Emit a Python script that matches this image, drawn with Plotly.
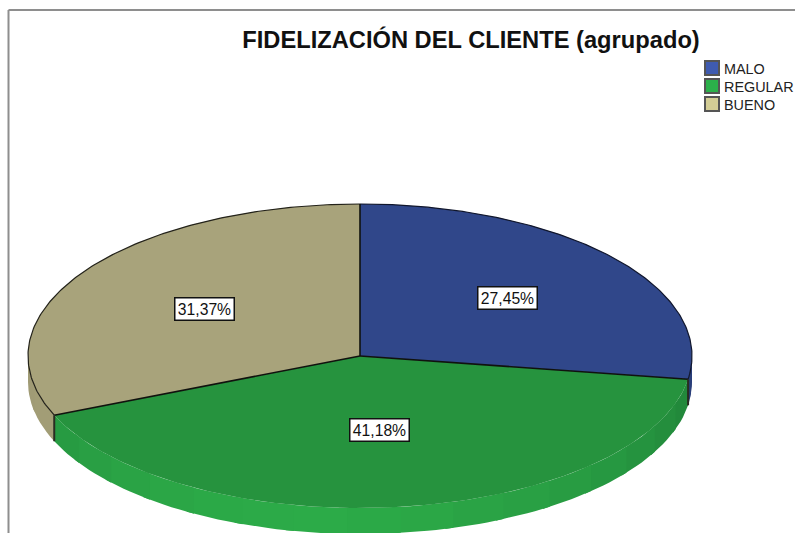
import numpy as np
import plotly.graph_objects as go

categories = ["MALO", "REGULAR", "BUENO"]
values = [27.45, 41.18, 31.37]
labels = ["27,45%", "41,18%", "31,37%"]
title = "FIDELIZACIÓN DEL CLIENTE (agrupado)"
label_radius = [0.587, 0.49, 0.563]

top_colors = ["#30478A", "#26933E", "#A8A37B"]
legend_colors = ["#3F5BB0", "#2BB04A", "#D3CD95"]
wall_light = ["#3D57A4", "#2CAB48", "#A8A37B"]
wall_dark = ["#2A3E7A", "#21853A", "#9C9772"]
edge_colors = ["#10162C", "rgba(0,0,0,0)", "#23221A"]

W, H = 795, 533
CX, CY, RX, RY, DEPTH = 360, 356, 332, 152, 26
LEG_X, LEG_Y = 712, [68, 86, 104]


def pt(frac, r=1.0):
    a = 2 * np.pi * np.asarray(frac, dtype=float)
    return CX + RX * r * np.sin(a), CY - RY * r * np.cos(a)


def mix(c1, c2, t):
    a = [int(c1[i:i + 2], 16) for i in (1, 3, 5)]
    b = [int(c2[i:i + 2], 16) for i in (1, 3, 5)]
    return "rgb(%d,%d,%d)" % tuple(round(p + (q - p) * t) for p, q in zip(a, b))


fig = go.Figure()
fracs = np.cumsum([0] + values) / sum(values)


def poly(xs, ys, color):
    fig.add_trace(go.Scatter(
        x=list(xs), y=list(ys), mode="lines", fill="toself", fillcolor=color,
        line=dict(color=color, width=0), hoverinfo="skip", showlegend=False))


# side wall: overlapping strips of the visible lower half of the rim
for i in range(3):
    lo, hi = max(fracs[i], 0.25), min(fracs[i + 1], 0.75)
    if hi <= lo:
        continue
    n = max(2, int((hi - lo) * 40))
    edges = np.linspace(lo, hi, n + 1)
    for a, b in zip(edges[:-1], edges[1:]):
        m = (a + b) / 2
        t = np.clip(abs(m - 0.53) / 0.26, 0, 1) ** 1.5
        f = np.linspace(a, min(b + 0.004, hi), 8)
        x, y = pt(f)
        poly(list(x) + list(x[::-1]), list(y) + list((y + DEPTH)[::-1]),
             mix(wall_light[i], wall_dark[i], float(t)))

# top faces
for i in range(3):
    f = np.linspace(fracs[i], fracs[i + 1], 160)
    x, y = pt(f)
    poly([CX] + list(x) + [CX], [CY] + list(y) + [CY], top_colors[i])

# rim outlines for the blue and tan faces
for i in (0, 2):
    f = np.linspace(fracs[i], fracs[i + 1], 160)
    x, y = pt(f)
    fig.add_trace(go.Scatter(x=x, y=y, mode="lines", hoverinfo="skip", showlegend=False,
                             line=dict(color=edge_colors[i], width=1.2)))

# radial edges and vertical wall edges
for fr in fracs[:3]:
    x, y = pt(fr)
    fig.add_trace(go.Scatter(x=[CX, x], y=[CY, y], mode="lines", hoverinfo="skip",
                             showlegend=False, line=dict(color="#10120E", width=1.6)))
    if 0.25 < fr < 0.75:
        fig.add_trace(go.Scatter(x=[x, x], y=[y, y + DEPTH], mode="lines", hoverinfo="skip",
                                 showlegend=False, line=dict(color="#2A2C22", width=2)))

# legend: swatch markers and real text
for name, col, ly in zip(categories, legend_colors, LEG_Y):
    fig.add_trace(go.Scatter(
        x=[LEG_X], y=[ly], mode="markers", name=name, hoverinfo="name", showlegend=False,
        marker=dict(symbol="square", size=14, color=col, line=dict(color="#555555", width=2))))
    fig.add_annotation(x=722.5, y=ly + 0.5, text=name, showarrow=False, xanchor="left",
                       borderpad=0, font=dict(family="Liberation Sans", size=14.4, color="#222222"))

# value labels
for i, txt in enumerate(labels):
    mid = (fracs[i] + fracs[i + 1]) / 2
    x, y = pt(mid, label_radius[i])
    fig.add_annotation(x=x, y=y, text=txt, showarrow=False, bgcolor="white",
                       bordercolor="#111111", borderwidth=1.5, borderpad=0, width=58, height=21,
                       font=dict(family="Liberation Sans", size=15.7, color="#111111"))

# frame
frame = dict(color="#8E8E8E", width=2)
fig.add_shape(type="line", x0=8.5, x1=W, y0=10, y1=10, line=frame)
fig.add_shape(type="line", x0=8.5, x1=8.5, y0=10, y1=H, line=frame)

fig.update_layout(
    width=W, height=H, margin=dict(l=0, r=0, t=0, b=0, autoexpand=False),
    paper_bgcolor="white", plot_bgcolor="white",
    xaxis=dict(range=[0, W], visible=False, fixedrange=True),
    yaxis=dict(range=[H, 0], visible=False, fixedrange=True),
    title=dict(text="<b>" + title + "</b>", x=471 / W, y=1 - 40 / H,
               xanchor="center", yanchor="middle", automargin=False,
               font=dict(family="Liberation Sans", size=23.7, color="#111111")),
    showlegend=False,
)

fig.write_html("out.html", config={"displayModeBar": False},
               post_script="document.body.style.margin='0';document.body.style.overflow='hidden';")
